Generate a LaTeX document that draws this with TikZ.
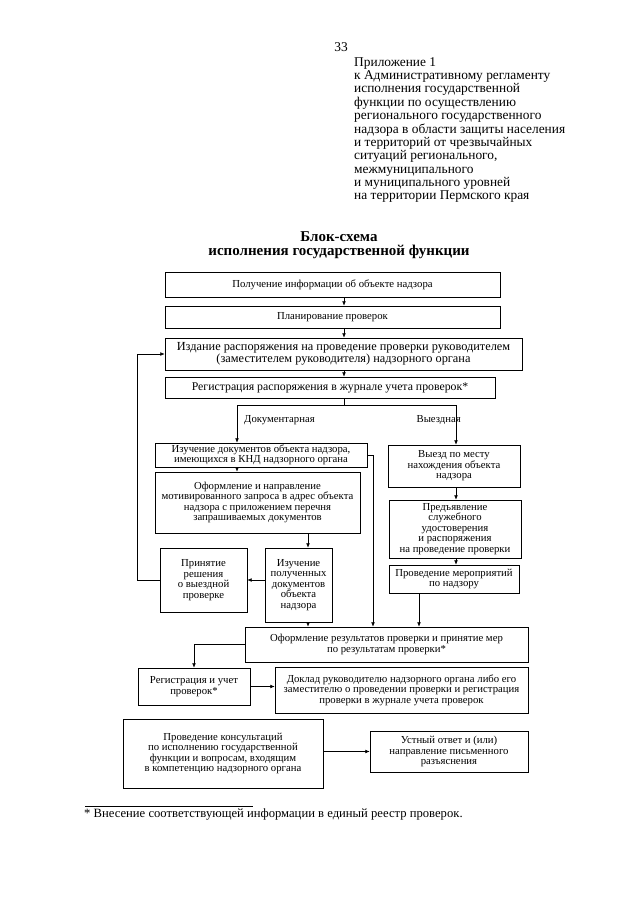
\documentclass[tikz,border=0pt]{standalone}
\usepackage{fontspec}
\setmainfont{Liberation Serif}
\usetikzlibrary{arrows.meta}

\tikzset{
  blk/.style 2 args={draw, line width=0.6pt, minimum width=#1*0.328mm,
    minimum height=#2*0.328mm, inner sep=1pt, align=center,
    font=\fontsize{10}{9.8}\selectfont},
  arr/.style={-{Latex[length=4pt,width=3.5pt]}, line width=0.6pt},
  lbl/.style={inner sep=0pt, font=\fontsize{10}{10}\selectfont},
}

\begin{document}
\begin{tikzpicture}[x=0.328mm, y=-0.328mm]
\useasboundingbox (0,0) rectangle (640,905);
% page heading
\node[font=\fontsize{12.5}{12.5}\selectfont] (pnum) at (341,47) {33};
\node[anchor=north west, inner sep=0pt, align=left,
  font=\fontsize{12.5}{12.5}\selectfont] (appx) at (354,57)
  {Приложение 1\\
   к Административному регламенту\\
   исполнения государственной\\
   функции по осуществлению\\
   регионального государственного\\
   надзора в области защиты населения\\
   и территорий от чрезвычайных\\
   ситуаций регионального,\\
   межмуниципального\\
   и муниципального уровней\\
   на территории Пермского края};
\node[align=center, font=\bfseries\fontsize{14}{13.5}\selectfont] (title) at (339,245)
  {Блок-схема\\ исполнения государственной функции};
% common part
\node[blk={335}{25}] (get) at (332.5,284.5) {Получение информации об объекте надзора};
\node[blk={335}{22}] (plan) at (332.5,317) {Планирование проверок};
\node[blk={357}{32}, font=\fontsize{11.5}{11}\selectfont] (order) at (343.5,354)
  {Издание распоряжения на проведение проверки руководителем\\
   (заместителем руководителя) надзорного органа};
\node[blk={330}{21}, font=\fontsize{11}{11}\selectfont] (reg) at (330,387.5)
  {Регистрация распоряжения в журнале учета проверок*};
% documentary check
\node[blk={212}{24}] (study) at (261,455)
  {Изучение документов объекта надзора,\\ имеющихся в КНД надзорного органа};
\node[blk={205}{61}] (request) at (257.5,502.5)
  {Оформление и направление\\ мотивированного запроса в адрес объекта\\
   надзора с приложением перечня\\ запрашиваемых документов};
\node[blk={87}{64}] (decide) at (203.5,580)
  {Принятие\\ решения\\ о выездной\\ проверке};
\node[blk={67}{74}] (examine) at (298.5,585)
  {Изучение\\ полученных\\ документов\\ объекта\\ надзора};
% field check
\node[blk={132}{42}] (visit) at (454,466)
  {Выезд по месту\\ нахождения объекта\\ надзора};
\node[blk={132}{58}] (present) at (455,529)
  {Предъявление\\ служебного\\ удостоверения\\ и распоряжения\\ на проведение проверки};
\node[blk={130}{28}] (conduct) at (454,579)
  {Проведение мероприятий\\ по надзору};
% results
\node[blk={283}{35}] (result) at (386.5,644.5)
  {Оформление результатов проверки и принятие мер\\ по результатам проверки*};
\node[blk={112}{37}] (record) at (194,686.5)
  {Регистрация и учет\\ проверок*};
\node[blk={253}{46}] (report) at (401.5,690)
  {Доклад руководителю надзорного органа либо его\\
   заместителю о проведении проверки и регистрация\\
   проверки в журнале учета проверок};
\node[blk={200}{69}] (consult) at (223,753.5)
  {Проведение консультаций\\ по исполнению государственной\\
   функции и вопросам, входящим\\ в компетенцию надзорного органа};
\node[blk={158}{41}] (answer) at (449,751.5)
  {Устный ответ и (или)\\ направление письменного\\ разъяснения};
% guide lines for the connectors
\coordinate (axis) at (344,0);
\coordinate (fork) at (344,405);
\coordinate (docx) at (237,0);
\coordinate (visx) at (456,0);
\coordinate (exx) at (308,0);
\coordinate (sidex) at (373,0);
\coordinate (conx) at (419,0);
% connectors
\draw[arr] (get.south -| axis) -- (plan.north -| axis);
\draw[arr] (plan.south -| axis) -- (order.north -| axis);
\draw[arr] (order.south -| axis) -- (reg.north -| axis);
\draw (reg.south -| axis) -- (fork);
\draw[arr] (fork) -| (study.north -| docx);
\draw[arr] (fork) -| (visit.north -| visx);
\node[lbl, anchor=west] (doclbl) at (244,420) {Документарная};
\node[lbl, anchor=east] (vislbl) at (461,420) {Выездная};
\draw[arr] (study.south -| docx) -- (request.north -| docx);
\draw[arr] (request.south -| exx) -- (examine.north -| exx);
\draw[arr] (examine.west |- decide.east) -- (decide.east);
\draw[arr] (decide.west) -- ++(-22,0) |- (order.west);
\draw[arr] (study.east) -| (result.north -| sidex);
\draw[arr] (examine.south -| exx) -- (result.north -| exx);
\draw[arr] (visit.south -| visx) -- (present.north -| visx);
\draw[arr] (present.south -| visx) -- (conduct.north -| visx);
\draw[arr] (conduct.south -| conx) -- (result.north -| conx);
\draw[arr] (result.west) -| (record.north);
\draw[arr] (record.east) -- (record.east -| report.west);
\draw[arr] (consult.east |- answer.west) -- (answer.west);
% footnote
\coordinate (fnl) at (85,806);
\coordinate (fnr) at (253,806);
\draw[line width=0.5pt] (fnl) -- (fnr);
\node[anchor=north west, inner sep=0pt, font=\fontsize{11.8}{11.8}\selectfont] (fn) at (84,809)
  {* Внесение соответствующей информации в единый реестр проверок.};
\end{tikzpicture}
\end{document}
